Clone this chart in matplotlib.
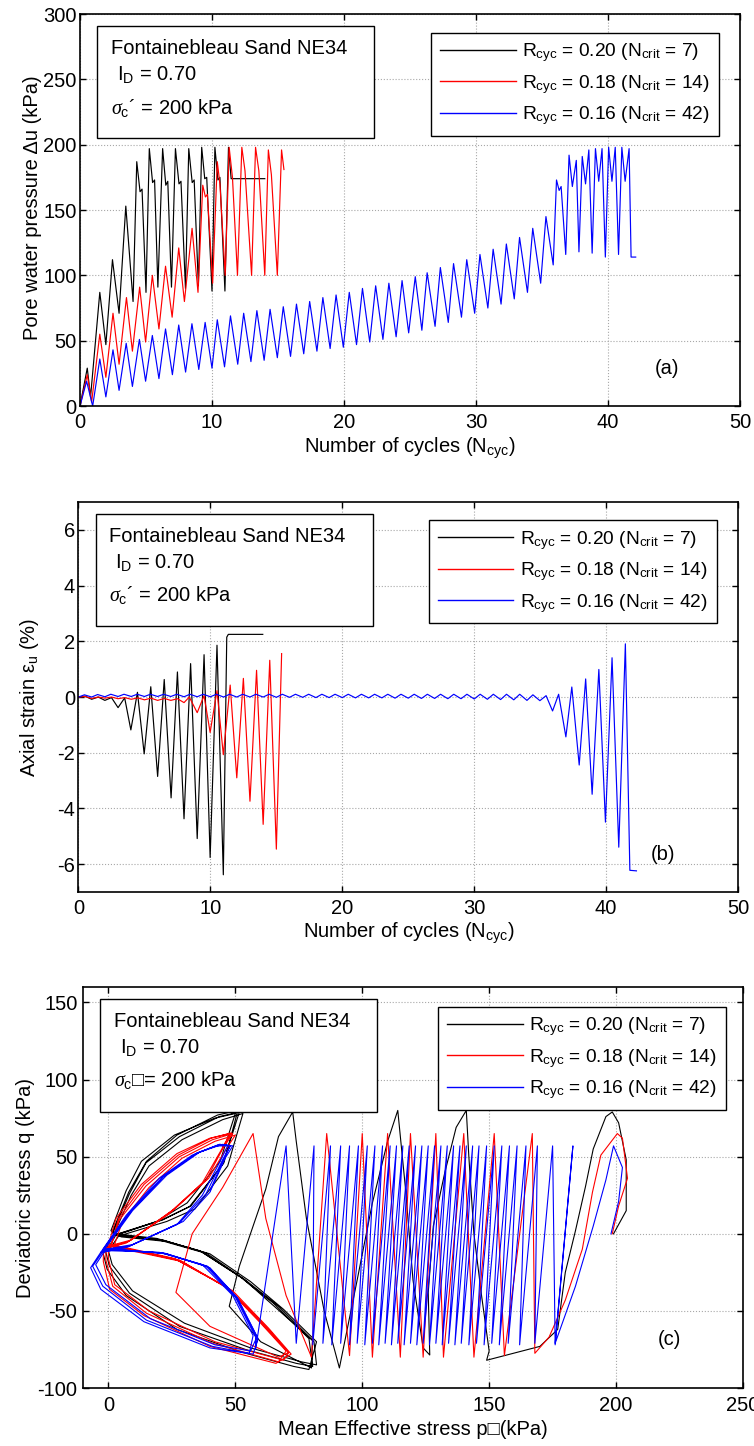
import matplotlib
matplotlib.use("Agg")
import matplotlib.pyplot as plt
from matplotlib.patches import Rectangle

plt.rcParams['font.family'] = ['Liberation Sans', 'DejaVu Sans']
plt.rcParams['font.size'] = 14.5
plt.rcParams['mathtext.fontset'] = 'custom'
plt.rcParams['mathtext.rm'] = 'Liberation Sans'
plt.rcParams['mathtext.it'] = 'Liberation Serif:italic'
plt.rcParams['mathtext.fallback'] = 'stix'
plt.rcParams['axes.unicode_minus'] = False

# --- Panel (a): cycles vs pore water pressure (kPa) ---
a_blk = [(0, 0), (0.55, 29), (0.8, 7), (1.5, 87), (1.96, 47), (2.46, 112), (2.96, 71), (3.47, 153),
         (4.02, 80), (4.3, 187), (4.55, 164), (4.7, 166), (5.0, 87), (5.25, 197), (5.5, 171), (5.65, 173),
         (5.9, 91), (6.26, 197), (6.5, 169), (6.65, 172), (6.93, 91), (7.23, 197), (7.5, 170), (7.65, 172),
         (7.99, 90), (8.24, 197), (8.5, 171), (8.65, 173), (8.97, 92), (9.22, 198), (9.45, 174), (9.6, 175),
         (10.0, 88), (10.22, 198), (10.45, 173), (10.6, 175), (10.98, 88), (11.25, 198), (11.45, 174), (14.0, 174)]
a_red = [(0, 0), (0.55, 24), (0.88, 3), (1.5, 55), (1.96, 22), (2.5, 71), (2.96, 32), (3.52, 83),
         (3.97, 42), (4.52, 91), (4.97, 49), (5.48, 100), (5.98, 59), (6.48, 107), (6.98, 68), (7.48, 121),
         (7.91, 80), (8.49, 136), (8.94, 87), (9.3, 169), (9.5, 160), (9.65, 162), (10.05, 94), (10.4, 187),
         (10.6, 170), (11.0, 100), (11.3, 198), (11.55, 175), (11.93, 100), (12.26, 198), (12.5, 180),
         (13.0, 100), (13.3, 198), (13.55, 180), (14.0, 100), (14.27, 196), (14.5, 177), (14.95, 100),
         (15.27, 196), (15.45, 181)]
a_blu = [(0, 0), (0.5, 19), (0.96, 0), (1.5, 36), (1.96, 7), (2.5, 43), (2.96, 12), (3.5, 48), (3.97, 15),
         (4.5, 51), (4.97, 19), (5.48, 54), (5.98, 21), (6.48, 59), (7.0, 24), (7.48, 62), (8.0, 26),
         (8.48, 63), (9.0, 28), (9.48, 64), (10.0, 29), (10.4, 66), (10.95, 30), (11.4, 69), (11.95, 32),
         (12.4, 71), (12.95, 34), (13.4, 73), (13.95, 35), (14.4, 74), (14.95, 37), (15.4, 76), (15.95, 38),
         (16.4, 78), (16.95, 40), (17.4, 80), (17.95, 42), (18.4, 83), (18.95, 44), (19.4, 85), (19.95, 45),
         (20.4, 87), (20.95, 47), (21.4, 90), (21.95, 49), (22.4, 92), (22.95, 51), (23.4, 94), (23.95, 53),
         (24.4, 96), (24.9, 56), (25.4, 99), (25.9, 58), (26.3, 102), (26.9, 61), (27.3, 106), (27.9, 64),
         (28.3, 109), (28.9, 68), (29.3, 112), (29.9, 71), (30.3, 116), (30.9, 75), (31.3, 120), (31.9, 78),
         (32.3, 124), (32.9, 82), (33.3, 129), (33.9, 87), (34.3, 136), (34.9, 94), (35.3, 145), (35.85, 108),
         (36.1, 173), (36.3, 165), (36.45, 168), (36.8, 116), (37.05, 192), (37.3, 168), (37.6, 188),
         (37.8, 118), (38.05, 191), (38.3, 170), (38.55, 196), (38.8, 117), (39.05, 197), (39.3, 172),
         (39.55, 197), (39.8, 114), (40.05, 198), (40.3, 172), (40.55, 198), (40.8, 116), (41.05, 198),
         (41.3, 172), (41.6, 197), (41.75, 114), (42.1, 114)]

# --- Panel (b): cycles vs axial strain (%) ---
b_blk = [(0, 0), (0.5, 0.03), (1.0, -0.08), (1.5, 0.0), (2.0, -0.12), (2.5, -0.02), (3.0, -0.38),
         (3.5, -0.03), (3.97, -1.18), (4.47, 0.17), (4.98, -2.04), (5.48, 0.37), (6.0, -2.85), (6.5, 0.63),
         (7.02, -3.62), (7.5, 0.9), (8.0, -4.37), (8.5, 1.2), (9.0, -5.08), (9.52, 1.52), (9.98, -5.76),
         (10.5, 1.86), (10.98, -6.38), (11.24, 2.15), (11.36, 2.25), (13.97, 2.25)]
b_red = [(0, 0), (0.5, 0.02), (1.0, -0.05), (1.5, 0.0), (2.0, -0.04), (2.5, 0.0), (3.0, -0.06), (3.5, -0.02),
         (4.0, -0.08), (4.5, -0.03), (5.0, -0.1), (5.5, -0.04), (6.0, -0.12), (6.5, -0.05), (7.0, -0.12),
         (7.5, -0.06), (8.0, -0.2), (8.4, 0.0), (9.0, -0.56), (9.52, 0.05), (9.98, -1.27), (10.5, 0.23),
         (10.98, -2.07), (11.5, 0.43), (12.0, -2.9), (12.5, 0.67), (13.0, -3.74), (13.5, 0.96), (14.0, -4.57),
         (14.5, 1.32), (15.0, -5.46), (15.4, 1.56)]
b_blu = [(0, 0), (0.45, 0.08), (1.0, 0.0), (1.45, 0.09), (2.0, 0.01), (2.45, 0.1), (3.0, 0.02), (3.45, 0.1),
         (4.0, 0.02), (4.45, 0.1), (5.0, 0.02), (5.45, 0.1), (6.0, 0.02), (6.45, 0.1), (7.0, 0.02), (7.45, 0.1),
         (8.0, 0.01), (8.45, 0.1), (9.0, 0.01), (9.45, 0.1), (10.0, 0.01), (10.45, 0.1), (11.0, 0.0),
         (11.45, 0.1), (12.0, 0.0), (12.45, 0.1), (13.0, 0.0), (13.45, 0.1), (14.0, 0.0), (14.45, 0.1),
         (15.0, -0.01), (15.45, 0.1), (16.0, -0.01), (16.45, 0.1), (17.0, -0.01), (17.45, 0.1), (18.0, -0.02),
         (18.45, 0.1), (19.0, -0.02), (19.45, 0.1), (20.0, -0.02), (20.45, 0.1), (21.0, -0.03), (21.45, 0.1),
         (22.0, -0.03), (22.45, 0.1), (23.0, -0.03), (23.45, 0.1), (24.0, -0.04), (24.45, 0.1), (25.0, -0.04),
         (25.45, 0.1), (26.0, -0.05), (26.45, 0.1), (27.0, -0.05), (27.45, 0.1), (28.0, -0.06), (28.45, 0.1),
         (29.0, -0.06), (29.45, 0.1), (30.0, -0.07), (30.45, 0.1), (31.0, -0.08), (31.45, 0.1), (32.0, -0.09),
         (32.45, 0.1), (33.0, -0.1), (33.45, 0.1), (34.0, -0.12), (34.45, 0.08), (34.98, -0.13), (35.45, 0.05),
         (35.94, -0.5), (36.4, 0.1), (36.95, -1.43), (37.4, 0.36), (37.96, -2.44), (38.45, 0.65), (38.94, -3.49),
         (39.45, 0.99), (39.95, -4.49), (40.45, 1.41), (40.96, -5.39), (41.46, 1.91), (41.8, -6.22), (42.3, -6.24)]

# --- Panel (c): stress path p' vs q (kPa) ---
c_blk = [(199, 0), (204, 15), (204, 48), (201, 72), (198.5, 79), (196, 76), (191, 55), (188, 31), (184, 2),
         (180, -25), (177, -62), (170, -73), (149, -82), (150, -76), (147, -40), (144, 0), (142, 50), (141, 80),
         (137, 69), (132.5, 39.5), (128, 5), (126, -38), (126.6, -78.6), (124, -74), (120, -30), (117, 30),
         (114, 80), (110, 60), (104, 20), (98, -30), (91, -87), (85, -50), (78, 10), (74, 60), (72.6, 79),
         (67, 63), (62, 29), (57, 5), (51.6, -21), (47.6, -47), (60, -70), (80, -87),
         (80.4, -69), (67, -47), (54, -30), (38.5, -12.5), (21.4, -4), (4, -1), (1.7, 0.4), (8.3, 26),
         (14.8, 46), (28, 63), (43.7, 76), (51.6, 79), (45, 45), (32, 17.7), (21.4, 9), (3, -0.6), (-1, -12),
         (0.4, -21), (8.3, -38.5), (28, -60), (54, -75), (74, -84), (80.5, -86),
         (79, -68), (65, -45), (52, -28), (36, -11), (19, -3), (3, 0), (1, 2), (7, 28), (13, 47), (26, 64),
         (42, 75), (50, 78), (44, 47), (31, 20), (19, 8), (2, -1), (-2, -13), (-0.5, -23), (7, -40), (27, -62),
         (53, -77), (73, -86), (79, -88),
         (82, -70), (69, -49), (56, -31), (40, -13), (23, -5), (5, -2), (2.5, 1), (9, 25), (16, 44), (29, 61),
         (45, 74), (53, 78), (47, 44), (34, 16), (23, 8), (4, -1.5), (0, -11), (1.5, -20), (9.5, -37),
         (30, -58), (56, -74), (76, -83), (82, -85),
         (81, -70), (66, -48), (53, -29), (37, -12), (20, -4), (3.5, -1), (1.5, 1), (8, 27), (15, 47),
         (27, 64), (43, 77), (51, 80), (45.5, 46), (32.5, 18), (21, 9), (3, -1)]
c_red = [(198.5, 0), (201, 18), (204.5, 36), (202.5, 62), (200.5, 65), (194, 51), (190.7, 27), (186.7, -10),
         (180, -43), (173.6, -67), (168, -77.5), (167, 65), (156, -79), (152, 65), (144, -80), (140, 65),
         (132, -80), (129, 65), (124, -80), (119, 65), (115, -80), (110, 65), (104, -80), (100, 65), (95, -79),
         (86, 65), (80, -80), (70, -40), (62, 10), (57, 65), (45, 30), (33, 0), (26.6, -38), (40, -60),
         (67, -80),
         (71, -77), (62, -60), (47.6, -36), (28, -17), (8.3, -10), (1, -8), (4.3, 9), (14.8, 31), (28, 50),
         (41, 61), (49, 65), (45, 55), (38.5, 35), (25, 15), (8, -5), (-1, -9), (-1, -17), (1.7, -34),
         (15, -51.5), (41, -71), (67, -83),
         (70, -76), (60, -58), (46, -34), (26, -16), (7, -9), (0, -7), (3, 10), (13, 32), (27, 52), (40, 62),
         (48, 65), (44, 53), (37, 33), (24, 13), (7, -6), (-2, -10), (-2, -18), (0.5, -36), (14, -53),
         (40, -73), (66, -84),
         (72, -78), (63, -61), (49, -37), (29, -18), (9, -11), (2, -9), (5.5, 8), (16, 30), (29, 49),
         (42, 60), (50, 64), (46, 54), (39.5, 36), (26, 16), (9, -4), (0, -8), (0, -16), (2.5, -33),
         (16, -50), (42, -70), (69, -82),
         (71, -77), (61, -59), (47, -35), (27, -17), (8, -10), (1, -8), (4, 10), (14, 32), (27.5, 51),
         (40.5, 62), (48.5, 65.5), (45, 56)]
c_blu = [(198, 0), (201, 21), (202.5, 43), (199, 57), (196, 35), (191, 5), (184, -34), (176, -71),
         (183, 57), (176, -72), (175, 57), (168, -71), (169, 57), (162, -72), (164.5, 57), (157.5, -71),
         (161, 57), (154, -72), (158, 57), (151, -71), (155, 57), (148, -72), (152, 57), (145, -71),
         (149, 57), (142, -72), (146, 57), (139, -71), (143.5, 57), (136.5, -72), (141, 57), (134, -71),
         (138.5, 57), (131.5, -72), (136, 57), (129, -71), (133.5, 57), (126.5, -72), (131, 57), (124, -71),
         (128.5, 57), (121.5, -72), (126, 57), (119, -71), (123.5, 57), (116.5, -72), (121, 57), (114, -71),
         (118.5, 57), (111.5, -72), (116, 57), (109, -71), (113.5, 57), (106.5, -72), (111, 57), (104, -71),
         (108, 57), (101, -72), (105, 57), (98, -71), (102, 57), (95, -72), (98.5, 57), (91.5, -71),
         (95, 57), (88, -72), (91.5, 57), (84.5, -71), (87.5, 57), (80.5, -72), (81, 57), (74, -71),
         (70, 57), (58, -75),
         (58, -67), (50, -41), (38.5, -21), (21.4, -12.5), (1.7, -10.4), (-2.2, -10.4), (8.3, 13.4),
         (21.4, 37), (34.5, 52), (43.7, 58), (48, 57), (45, 48), (38.5, 26), (28, 7), (8.3, -8), (-2, -11),
         (-6.2, -21), (-2.2, -34), (15, -56), (41, -73), (55.5, -77.5),
         (57, -66), (49, -40), (37, -20), (20, -12), (1, -11), (-3, -12), (7, 12), (20, 36), (33, 51),
         (42.5, 57), (47, 57), (44, 47), (37, 25), (27, 6), (7, -9), (-3, -12), (-7, -22), (-3, -36),
         (14, -57), (40, -74), (57, -78),
         (59, -68), (51, -42), (40, -22), (23, -13), (3, -10), (-1.5, -10), (9.5, 15), (23, 38), (36, 53),
         (45, 58), (49, 57), (46, 49), (40, 27), (29.5, 8), (9.5, -7), (-1, -10), (-5, -20), (-1, -33),
         (16.5, -55), (42, -72), (56, -76),
         (58.5, -67), (50.5, -41), (39, -21), (22, -12.5), (2, -10), (-2, -10.5), (8.5, 14), (22, 37.5),
         (35, 52.5), (44, 58), (48, 57), (45.5, 48.5), (40, 28)]

labels = ['R$_{\\rm cyc}$ = 0.20 (N$_{\\rm crit}$ = 7)',
          'R$_{\\rm cyc}$ = 0.18 (N$_{\\rm crit}$ = 14)',
          'R$_{\\rm cyc}$ = 0.16 (N$_{\\rm crit}$ = 42)']
colors = ['black', 'red', 'blue']


def style_axes(ax):
    ax.grid(True, linestyle=':', color='#a8a8a8', linewidth=0.8)
    ax.tick_params(direction='in', top=True, right=True, length=4.5, width=1.0, labelsize=14.5)
    for s in ax.spines.values():
        s.set_linewidth(1.2)


def info_box(ax, sigma_txt, ys):
    ax.add_patch(Rectangle((0.026, ys[3]), 0.42, 0.969 - ys[3], transform=ax.transAxes,
                           facecolor='white', edgecolor='black', linewidth=1.0, zorder=5))
    ax.text(0.047, ys[0], 'Fontainebleau Sand NE34', transform=ax.transAxes, zorder=6)
    ax.text(0.056, ys[1], 'I$_{\\rm D}$ = 0.70', transform=ax.transAxes, zorder=6)
    ax.text(0.047, ys[2], sigma_txt, transform=ax.transAxes, zorder=6)


def add_legend(ax, x, y):
    leg = ax.legend(loc='upper right', bbox_to_anchor=(x, y), borderaxespad=0, fancybox=False,
                    edgecolor='black', framealpha=1, handlelength=3.95, handletextpad=0.35,
                    labelspacing=0.45, borderpad=0.45, fontsize=13.8)
    leg.get_frame().set_linewidth(1.0)
    for h in leg.get_lines():
        h.set_linewidth(1.0)
    leg.set_zorder(7)


fig = plt.figure(figsize=(7.54, 14.46), dpi=100)

# (a)
ax1 = fig.add_axes([0.1061, 0.7192, 0.8753, 0.2711])
for data, c, lab in zip([a_blk, a_red, a_blu], colors, labels):
    n, du = zip(*data)
    ax1.plot(n, du, color=c, lw=0.85, label=lab, solid_joinstyle='round')
ax1.set_xlim(0, 50)
ax1.set_ylim(0, 300)
ax1.set_xticks(range(0, 51, 10))
ax1.set_yticks(range(0, 301, 50))
style_axes(ax1)
ax1.tick_params(axis='x', pad=5)
ax1.tick_params(axis='y', pad=2.5)
ax1.set_xlabel('Number of cycles (N$_{\\rm cyc}$)')
ax1.set_ylabel('Pore water pressure \u0394u (kPa)')
ax1.xaxis.set_label_coords(0.5, -0.075)
ax1.yaxis.set_label_coords(-0.057, 0.505)
info_box(ax1, '$\\sigma_{\\rm c}$\u00b4 = 200 kPa', [0.898, 0.832, 0.745, 0.683])
add_legend(ax1, 0.968, 0.952)
ax1.text(0.889, 0.096, '(a)', transform=ax1.transAxes, ha='center', va='center')

# (b)
ax2 = fig.add_axes([0.1041, 0.3831, 0.8747, 0.2697])
for data, c, lab in zip([b_blk, b_red, b_blu], colors, labels):
    n, eps = zip(*data)
    ax2.plot(n, eps, color=c, lw=0.85, label=lab, solid_joinstyle='round')
ax2.set_xlim(0, 50)
ax2.set_ylim(-7, 7)
ax2.set_xticks(range(0, 51, 10))
ax2.set_yticks(range(-6, 7, 2))
style_axes(ax2)
ax2.tick_params(axis='x', pad=5)
ax2.tick_params(axis='y', pad=2.5)
ax2.set_xlabel('Number of cycles (N$_{\\rm cyc}$)')
ax2.set_ylabel('Axial strain \u03b5$_{\\rm u}$ (%)')
ax2.xaxis.set_label_coords(0.5, -0.075)
ax2.yaxis.set_label_coords(-0.057, 0.5)
info_box(ax2, '$\\sigma_{\\rm c}$\u00b4 = 200 kPa', [0.898, 0.832, 0.745, 0.682])
add_legend(ax2, 0.9675, 0.954)
ax2.text(0.887, 0.095, '(b)', transform=ax2.transAxes, ha='center', va='center')

# (c)
ax3 = fig.add_axes([0.1101, 0.0401, 0.8753, 0.2773])
for data, c, lab in zip([c_blk, c_red, c_blu], colors, labels):
    p, q = zip(*data)
    ax3.plot(p, q, color=c, lw=0.8, label=lab)
ax3.set_xlim(-10, 250)
ax3.set_ylim(-100, 160)
ax3.set_xticks(range(0, 251, 50))
ax3.set_yticks(range(-100, 151, 50))
style_axes(ax3)
ax3.tick_params(axis='x', pad=6)
ax3.tick_params(axis='y', pad=4)
ax3.set_xlabel('Mean Effective stress p\u25a1(kPa)')
ax3.set_ylabel('Deviatoric stress q (kPa)')
ax3.xaxis.set_label_coords(0.5, -0.08)
ax3.yaxis.set_label_coords(-0.072, 0.5)
info_box(ax3, '$\\sigma_{\\rm c}$\u25a1= 200 kPa', [0.901, 0.835, 0.752, 0.6875])
add_legend(ax3, 0.974, 0.951)
ax3.text(0.889, 0.12, '(c)', transform=ax3.transAxes, ha='center', va='center')

fig.savefig('out.png', dpi=100)
